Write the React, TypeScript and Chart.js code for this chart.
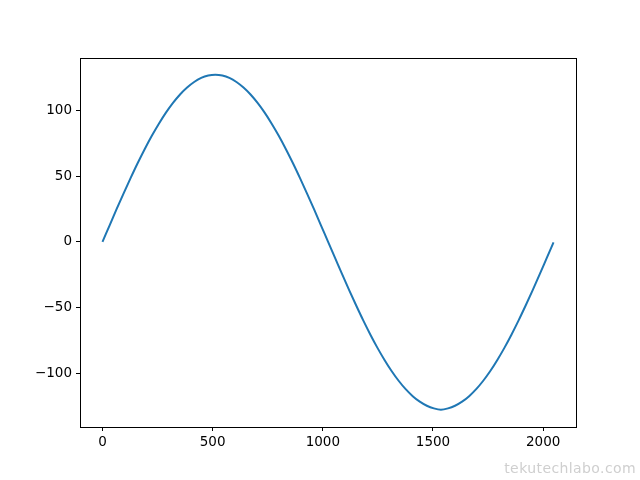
import React, { useEffect, useRef } from "react";
import { Chart, registerables } from "chart.js";

Chart.register(...registerables);

// sample index (x) and int8 amplitude (y)
const sampleIndex: number[] = [
  0, 32, 64, 96, 128, 160, 192, 224, 256, 288, 320, 352, 384, 416, 448, 480,
  512, 544, 576, 608, 640, 672, 704, 736, 768, 800, 832, 864, 896, 928, 960, 992,
  1024, 1056, 1088, 1120, 1152, 1184, 1216, 1248, 1280, 1312, 1344, 1376, 1408, 1440, 1472, 1504,
  1536, 1568, 1600, 1632, 1664, 1696, 1728, 1760, 1792, 1824, 1856, 1888, 1920, 1952, 1984, 2016,
  2047,
];
const amplitude: number[] = [
  0, 12.4, 24.8, 36.9, 48.6, 59.9, 70.6, 80.6, 89.8, 98.2, 105.6, 112, 117.3, 121.5, 124.6, 126.4,
  127, 126.4, 124.6, 121.5, 117.3, 112, 105.6, 98.2, 89.8, 80.6, 70.6, 59.9, 48.6, 36.9, 24.8, 12.4,
  0, -12.4, -24.8, -36.9, -48.6, -59.9, -70.6, -80.6, -89.8, -98.2, -105.6, -112, -117.3, -121.5, -124.6, -126.6,
  -127.6, -126.6, -124.6, -121.5, -117.3, -112, -105.6, -98.2, -89.8, -80.6, -70.6, -59.9, -48.6, -36.9, -24.8, -12.4,
  -0.4,
];
const xTicks: number[] = [0, 500, 1000, 1500, 2000];
const yTicks: number[] = [-100, -50, 0, 50, 100];

const frame = {
  id: "frame",
  afterDraw(chart: any) {
    const { ctx, chartArea } = chart;
    ctx.save();
    ctx.strokeStyle = "#000";
    ctx.lineWidth = 1;
    ctx.strokeRect(
      Math.round(chartArea.left) + 0.5,
      Math.round(chartArea.top) + 0.5,
      Math.round(chartArea.right - chartArea.left),
      Math.round(chartArea.bottom - chartArea.top)
    );
    ctx.restore();
  },
};

export default function App() {
  const ref = useRef<HTMLCanvasElement>(null);
  useEffect(() => {
    if (!ref.current) return;
    const font = { family: "'DejaVu Sans', sans-serif", size: 13.5 };
    const chart = new Chart(ref.current, {
      type: "line",
      data: {
        datasets: [
          {
            data: sampleIndex.map((x, i) => ({ x, y: amplitude[i] })),
            borderColor: "#1f77b4",
            borderWidth: 2,
            pointRadius: 0,
            cubicInterpolationMode: "monotone",
            fill: false,
          },
        ],
      },
      plugins: [frame],
      options: {
        responsive: false,
        animation: false,
        layout: { padding: { left: 0, top: 58, right: 64, bottom: 0 } },
        plugins: { legend: { display: false }, tooltip: { enabled: false } },
        scales: {
          x: {
            type: "linear",
            min: -102,
            max: 2149,
            afterBuildTicks: (s: any) => {
              s.ticks = xTicks.map((v) => ({ value: v }));
            },
            afterFit: (s: any) => {
              s.height = 53;
            },
            grid: {
              display: true,
              drawOnChartArea: false,
              drawTicks: true,
              tickLength: 4,
              color: "#000",
            },
            border: { display: false },
            ticks: {
              color: "#000",
              font,
              padding: 3,
              maxRotation: 0,
              callback: (v: any) => String(v),
            },
          },
          y: {
            type: "linear",
            min: -140.75,
            max: 139.75,
            afterBuildTicks: (s: any) => {
              s.ticks = yTicks.map((v) => ({ value: v }));
            },
            afterFit: (s: any) => {
              s.width = 80;
            },
            grid: {
              display: true,
              drawOnChartArea: false,
              drawTicks: true,
              tickLength: 4,
              color: "#000",
            },
            border: { display: false },
            ticks: {
              color: "#000",
              font,
              padding: 4,
              callback: (v: any) => (Number(v) < 0 ? "\u2212" + Math.abs(Number(v)) : String(v)),
            },
          },
        },
      },
    });
    return () => chart.destroy();
  }, []);
  return (
    <div style={{ position: "fixed", left: 0, top: 0, width: 640, height: 480, background: "#fff" }}>
      <canvas ref={ref} width={640} height={480} />
      <div
        style={{
          position: "absolute",
          right: 4,
          top: 460,
          fontFamily: "'DejaVu Sans', sans-serif",
          fontSize: 14,
          letterSpacing: "0.4px",
          color: "#cfcfcf",
        }}
      >
        tekutechlabo.com
      </div>
    </div>
  );
}
